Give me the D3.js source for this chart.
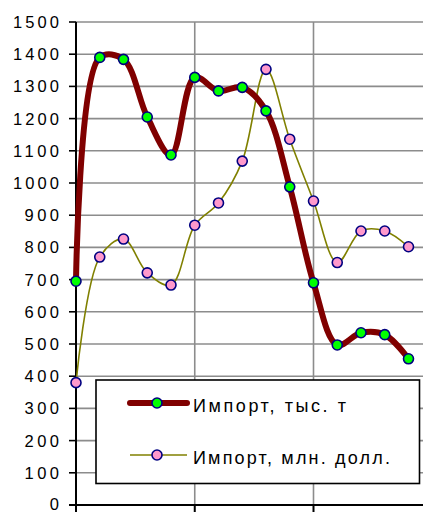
<!DOCTYPE html>
<html><head><meta charset="utf-8">
<script src="https://cdn.jsdelivr.net/npm/d3@7"></script>
<style>
html,body{margin:0;padding:0;background:#fff;}
svg{display:block;}
text{font-family:"Liberation Sans",Arial,sans-serif;fill:#000;}
</style></head>
<body>
<svg id="c" width="423" height="512"></svg>
<script>
// Data
const categories = d3.range(15); // 15 periods, unlabeled in the visible crop
const importTons = [695, 1390, 1384, 1205, 1087, 1328, 1286, 1297, 1224, 988, 690, 497, 535, 529, 454];
const importUsd  = [380, 770, 826, 721, 683, 869, 938, 1068, 1353, 1136, 944, 753, 851, 851, 802];
const yTicks = [0,100,200,300,400,500,600,700,800,900,1000,1100,1200,1300,1400,1500];
const seriesNames = ["Импорт, тыс. т", "Импорт, млн. долл."];

const svg = d3.select("#c");
const x = d3.scaleLinear().domain([0, 15]).range([76, 432.25]);
const y = d3.scaleLinear().domain([0, 1500]).range([505, 22]);

// horizontal gridlines
svg.append("g").selectAll("line").data(yTicks.filter(d => d > 0)).join("line")
  .attr("x1", x(0)).attr("x2", 423)
  .attr("y1", d => y(d)).attr("y2", d => y(d))
  .attr("stroke", "#8c8c8c").attr("stroke-width", 1.6);
// vertical gridlines every 5 categories
const vGrid = [5, 10, 15];
svg.append("g").selectAll("line").data(vGrid).join("line")
  .attr("x1", d => x(d)).attr("x2", d => x(d))
  .attr("y1", y(1500)).attr("y2", y(0))
  .attr("stroke", "#8c8c8c").attr("stroke-width", 1.6);

// y axis
svg.append("line").attr("x1", x(0)).attr("x2", x(0)).attr("y1", y(1500)).attr("y2", 512)
  .attr("stroke", "#000").attr("stroke-width", 2);
svg.append("g").selectAll("line").data(yTicks).join("line")
  .attr("x1", 69).attr("x2", x(0)).attr("y1", d => y(d)).attr("y2", d => y(d))
  .attr("stroke", "#000").attr("stroke-width", 1.6);
svg.append("g").selectAll("text").data(yTicks).join("text")
  .attr("x", 59).attr("y", d => Math.min(y(d) + 6, 510))
  .attr("text-anchor", "end")
  .attr("font-size", "16.5px")
  .attr("textLength", d => String(d).length * 11.5)
  .attr("lengthAdjust", "spacing")
  .text(d => d);
// x axis
svg.append("line").attr("x1", 69).attr("x2", 423).attr("y1", y(0)).attr("y2", y(0))
  .attr("stroke", "#000").attr("stroke-width", 2);
svg.append("g").selectAll("line").data([5, 10]).join("line")
  .attr("x1", d => x(d)).attr("x2", d => x(d)).attr("y1", y(0)).attr("y2", 512)
  .attr("stroke", "#000").attr("stroke-width", 2);

const curve = d3.curveCatmullRom.alpha(0.5);
const line = d3.line().x((d, i) => x(i)).y(d => y(d)).curve(curve);

// series 2 (thin olive)
svg.append("path").attr("d", line(importUsd)).attr("fill", "none")
  .attr("stroke", "#808000").attr("stroke-width", 1.6);
// series 1 (thick dark red)
svg.append("path").attr("d", line(importTons)).attr("fill", "none")
  .attr("stroke", "#800000").attr("stroke-width", 6).attr("stroke-linejoin", "round");

svg.append("g").selectAll("circle").data(importTons).join("circle")
  .attr("cx", (d, i) => x(i)).attr("cy", d => y(d)).attr("r", 5)
  .attr("fill", "#00ff00").attr("stroke", "#000080").attr("stroke-width", 1.6);
svg.append("g").selectAll("circle").data(importUsd).join("circle")
  .attr("cx", (d, i) => x(i)).attr("cy", d => y(d)).attr("r", 5)
  .attr("fill", "#ff99cc").attr("stroke", "#000080").attr("stroke-width", 1.6);

// legend
const lg = svg.append("g");
lg.append("rect").attr("x", 96).attr("y", 380).attr("width", 323.5).attr("height", 103.5)
  .attr("fill", "#fff").attr("stroke", "#000").attr("stroke-width", 1.6);
const legendItems = [
  {name: seriesNames[0], color: "#800000", w: 6, fill: "#00ff00", ly: 403, len: 153},
  {name: seriesNames[1], color: "#808000", w: 1.6, fill: "#ff99cc", ly: 455, len: 197}
];
legendItems.forEach(it => {
  lg.append("line").attr("x1", 130).attr("x2", 187).attr("y1", it.ly).attr("y2", it.ly)
    .attr("stroke", it.color).attr("stroke-width", it.w).attr("stroke-linecap", it.w > 3 ? "round" : "butt");
  lg.append("circle").attr("cx", 157).attr("cy", it.ly).attr("r", 5)
    .attr("fill", it.fill).attr("stroke", "#000080").attr("stroke-width", 1.6);
  lg.append("text").attr("x", 193).attr("y", it.ly + 9)
    .attr("font-size", "18px")
    .attr("textLength", it.len).attr("lengthAdjust", "spacing")
    .text(it.name);
});
</script>
</body></html>
